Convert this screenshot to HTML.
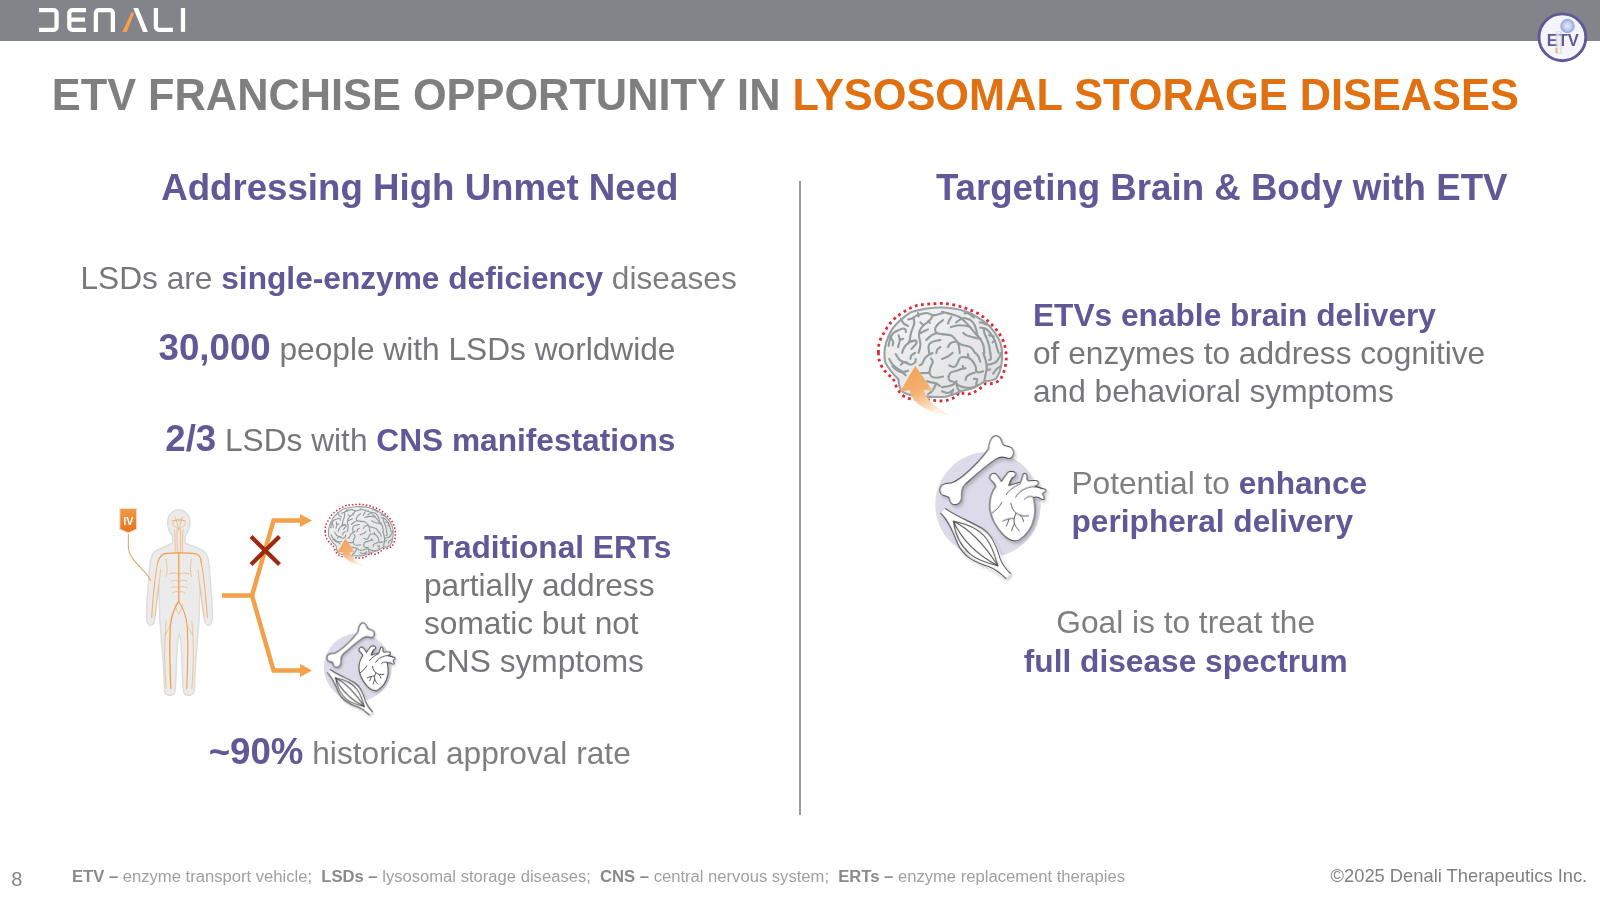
<!DOCTYPE html>
<html><head><meta charset="utf-8">
<style>
html,body{margin:0;padding:0;}
body{width:1600px;height:900px;position:relative;overflow:hidden;background:#fff;font-family:"Liberation Sans",sans-serif;}
.t{position:absolute;white-space:pre;color:#7f7f7f;}
.b{font-weight:bold;color:#615897;}
.s19{font-size:31.67px;line-height:38px;}
.g2{color:#76777b;}
.s22{font-size:36.67px;line-height:44px;}
svg{position:absolute;overflow:visible;}
</style></head>
<body><div style="position:absolute;left:0;top:0;width:1600px;height:900px;will-change:transform;">
<!-- top bar -->
<div style="position:absolute;left:0;top:0;width:1600px;height:41px;background:#838489;"></div>
<!-- DENALI logo -->
<svg style="left:30px;top:0;width:170px;height:41.97px" viewBox="0 0 1600 395">
 <g fill="none" stroke="#fff" stroke-width="40">
  <path d="M85,95 H222 A28,28 0 0 1 250,123 V252 A28,28 0 0 1 222,280 H85"/>
  <path d="M527,95 H398 A28,28 0 0 0 370,123 V252 A28,28 0 0 0 398,280 H527 M370,185 H518"/>
  <path d="M620,300 V123 A28,28 0 0 1 648,95 H752 A28,28 0 0 1 780,123 V300"/>
  <path d="M1185,75 V252 A28,28 0 0 0 1213,280 H1345"/>
  <path d="M1440,75 V300"/>
 </g>
 <polygon fill="#f5a04a" points="868,300 912,300 978,128 958,110"/>
 <polygon fill="#fff" points="972,75 1018,75 1110,300 1064,300"/>
</svg>
<!-- ETV badge -->
<svg style="left:1530px;top:5px;width:64px;height:64px" viewBox="1530 5 64 64"><circle cx="1562.4" cy="37.3" r="23.4" fill="#f5f4fa" stroke="#615897" stroke-width="2.9"/></svg>
<svg style="left:1537px;top:12px;width:50px;height:50px" viewBox="0 0 50 50">
 <defs><radialGradient id="bg1"><stop offset="0" stop-color="#f0e4f0"/><stop offset="0.5" stop-color="#c8d0ee"/><stop offset="1" stop-color="#86a8de"/></radialGradient></defs>
 <text x="25.8" y="33.7" text-anchor="middle" font-family="Liberation Sans" font-weight="bold" font-size="16.5" fill="#615897">ETV</text>
 <g opacity="0.55">
 <rect x="18.5" y="19" width="6.5" height="23" fill="#d6d6d6"/>
 <rect x="21" y="20" width="2" height="21" fill="#ececec"/>
 </g>
 <rect x="18.5" y="36" width="1.8" height="5" fill="#f0b070"/>
 <circle cx="30.5" cy="14" r="7.2" fill="url(#bg1)"/>
</svg>


<!-- title -->
<div class="t" style="left:51.8px;top:69px;font-size:43.33px;line-height:52px;font-weight:bold;color:#7f7f7f;transform:scaleY(1.045);transform-origin:0 41px;">ETV FRANCHISE OPPORTUNITY IN <span style="color:#e07010">LYSOSOMAL STORAGE DISEASES</span></div>

<!-- divider -->
<div style="position:absolute;left:799px;top:181px;width:2px;height:634px;background:#9b9b9b;"></div>

<!-- left column -->
<div class="t b s22" style="left:161.2px;top:166px;">Addressing High Unmet Need</div>
<div class="t s19" style="left:80.5px;top:259px;"><span class="g2">LSDs are </span><b class="b">single-enzyme deficiency</b> diseases</div>
<div class="t s19 g2" style="left:158.6px;top:329px;"><b class="b" style="font-size:36.67px">30,000</b> people with LSDs worldwide</div>
<div class="t s19 g2" style="left:165.25px;top:420px;"><b class="b" style="font-size:36.67px">2/3</b> LSDs with <b class="b">CNS manifestations</b></div>
<div class="t s19 g2" style="left:424px;top:528px;"><b class="b">Traditional ERTs</b>
partially address
somatic but not
CNS symptoms</div>
<div class="t s19" style="left:208.7px;top:733px;"><b class="b" style="font-size:36.67px">~90%</b> historical approval rate</div>

<!-- right column -->
<div class="t b s22" style="left:935.9px;top:166px;">Targeting Brain &amp; Body with ETV</div>
<div class="t s19 g2" style="left:1033px;top:296px;"><b class="b">ETVs enable brain delivery</b>
of enzymes to address cognitive
and behavioral symptoms</div>
<div class="t s19" style="left:1071.5px;top:464px;">Potential to <b class="b">enhance</b>
<b class="b">peripheral delivery</b></div>
<div class="t s19" style="left:985.7px;width:400px;text-align:center;top:603px;">Goal is to treat the</div>
<div class="t s19" style="left:985.7px;width:400px;text-align:center;top:642px;"><b class="b">full disease spectrum</b></div>


<!-- symbol defs -->
<svg width="0" height="0" style="position:absolute;left:0;top:0">
 <defs>
  <linearGradient id="brainFill" x1="0" y1="0" x2="1" y2="1">
   <stop offset="0" stop-color="#f4f4f4"/><stop offset="1" stop-color="#dedede"/>
  </linearGradient>
  <linearGradient id="arrowFill" x1="0" y1="0" x2="0.6" y2="1">
   <stop offset="0" stop-color="#f2a150"/><stop offset="0.55" stop-color="#f4b070"/><stop offset="1" stop-color="#fdf0e2"/>
  </linearGradient>
  <filter id="shadow" x="-20%" y="-20%" width="140%" height="140%">
   <feDropShadow dx="10" dy="14" stdDeviation="10" flood-color="#000" flood-opacity="0.2"/>
  </filter>
  <symbol id="brain" viewBox="0 0 1371 1200">
   <g transform="translate(128.6,85.7)">
   <path d="M30,454 C25,380 45,330 76,283 C100,240 130,190 172,156 C220,115 280,75 363,45 C430,35 505,32 583,28 C650,35 730,50 801,81 C870,100 930,140 978,192 C1030,235 1075,290 1104,363 C1120,410 1128,470 1124,520 C1118,580 1100,640 1074,681 C1050,705 1000,725 948,716 C910,750 870,790 801,807 C760,805 730,795 720,792 C700,830 660,855 583,866 C500,860 420,855 313,848 C270,840 240,825 225,805 C200,780 180,740 171,714 C165,695 160,680 150,668 C110,640 70,600 45,545 C32,510 28,480 30,454 Z" fill="none" stroke="#dc2b35" stroke-width="24" stroke-dasharray="24 30"/>
   <path d="M81,454 C81,380 101,330 146,252 C180,200 217,167 303,106 C360,85 404,76 505,66 C600,60 700,72 786,101 C850,125 900,160 958,202 C1010,250 1050,310 1074,363 C1085,400 1089,430 1089,454 C1092,530 1085,600 1043,666 C1020,690 993,696 937,696 C900,727 851,757 776,772 C700,790 650,830 583,832 C500,830 420,830 353,822 C300,815 250,800 227,777 C210,750 200,720 202,681 C167,646 116,595 86,530 C81,500 81,470 81,454 Z" fill="url(#brainFill)" stroke="#9aa2a5" stroke-width="18"/>
   <g fill="none" stroke="#939c9f" stroke-width="18" stroke-linecap="round" stroke-linejoin="round">
    <path d="M116,394 C118,383 123,349 130,330 C137,311 146,293 160,280 C174,267 203,258 217,252 C231,246 238,244 245,245 C252,246 259,250 262,255 C265,260 264,272 265,275"/>
    <path d="M131,313 C133,318 141,332 145,340 C149,348 155,355 156,363 C157,371 152,385 151,389"/>
    <path d="M222,161 C224,164 227,173 232,180 C237,187 242,198 250,205 C258,212 278,219 283,222"/>
    <path d="M283,167 C290,165 310,162 323,156 C336,150 344,138 363,131 C382,124 415,111 439,111 C463,111 481,131 505,131 C529,131 570,114 583,111"/>
    <path d="M368,111 L373,141"/>
    <path d="M328,151 C329,156 334,170 335,180 C336,190 338,195 333,212 C328,229 314,261 308,283 C302,305 302,328 298,343 C294,358 286,368 283,373"/>
    <path d="M298,353 C306,352 339,345 348,348 C357,351 359,361 353,373 C347,385 320,411 313,419"/>
    <path d="M389,192 C394,195 405,216 419,212 C433,208 461,180 474,167 C487,154 492,137 495,131"/>
    <path d="M469,197 L460,180"/>
    <path d="M419,212 C413,220 390,245 383,262 C376,279 377,293 378,313 C379,333 390,360 389,383 C388,406 376,442 373,454"/>
    <path d="M389,283 L454,252"/>
    <path d="M583,172 C575,179 546,199 535,212 C524,225 516,240 515,252 C514,264 519,276 530,283 C541,290 574,291 583,293"/>
    <path d="M439,343 C446,336 469,313 484,303 C499,293 522,286 530,283"/>
    <path d="M464,454 C463,444 456,409 459,394 C462,379 467,372 484,363 C501,354 547,346 560,343"/>
    <path d="M525,454 C527,449 529,432 535,424 C541,416 556,407 560,404"/>
    <path d="M202,303 C204,310 213,326 212,343 C211,360 200,394 197,404"/>
    <path d="M212,343 L242,333"/>
    <path d="M232,454 C235,446 242,419 252,404 C262,389 278,372 293,363 C308,354 335,350 343,348"/>
    <path d="M574,101 C587,104 625,114 650,121 C675,128 701,130 726,146 C751,162 779,194 801,217 C823,240 841,264 857,283 C873,302 885,311 897,328 C909,345 920,362 927,383 C934,404 935,442 937,454"/>
    <path d="M574,293 C587,295 632,296 650,303 C668,310 674,320 685,333 C696,346 709,363 716,383 C723,403 724,442 726,454"/>
    <path d="M650,232 C661,230 693,219 716,217 C739,215 769,220 786,222 C803,224 811,230 816,232"/>
    <path d="M695,192 C703,187 728,167 741,161 C754,155 760,155 771,156 C782,157 800,165 806,167"/>
    <path d="M766,116 C769,115 776,108 786,111 C796,114 816,124 826,131 C836,138 844,148 847,151"/>
    <path d="M811,167 C817,173 838,188 847,202 C856,216 862,235 867,252 C872,269 872,290 877,303 C882,316 894,328 897,333"/>
    <path d="M756,283 C761,286 769,296 786,303 C803,310 837,318 857,323 C877,328 899,331 907,333"/>
    <path d="M897,192 C902,193 917,194 927,197 C937,200 953,210 958,212"/>
    <path d="M902,237 C908,238 926,238 937,242 C948,246 956,250 968,262 C980,274 998,298 1008,313 C1018,328 1025,346 1028,353"/>
    <path d="M932,242 C933,249 933,269 937,283 C941,297 951,310 958,328 C965,346 973,373 978,394 C983,415 986,444 988,454"/>
    <path d="M978,303 L1018,313"/>
    <path d="M1008,363 C1011,361 1022,346 1028,353 C1034,360 1038,387 1043,404 C1048,421 1056,446 1059,454"/>
    <path d="M625,404 C629,398 640,376 650,368 C660,360 679,360 685,358"/>
    <path d="M695,353 C703,358 726,376 741,383 C756,390 772,390 786,394 C800,398 814,399 826,409 C838,419 852,446 857,454"/>
    <path d="M625,202 C628,196 635,176 640,167 C645,158 652,150 655,146"/>
    <path d="M121,504 C126,512 138,540 151,555 C164,570 187,585 202,595 C217,605 228,614 242,616 C256,618 276,608 283,606"/>
    <path d="M151,570 C158,576 177,597 192,606 C207,615 230,619 242,626 C254,633 259,643 262,646"/>
    <path d="M177,464 C183,472 198,503 212,515 C226,527 247,528 262,535 C277,542 290,555 303,555 C316,555 336,543 343,535 C350,527 347,510 348,505"/>
    <path d="M222,555 C225,552 234,538 242,535 C250,532 267,535 272,535"/>
    <path d="M303,505 C305,500 306,482 313,474 C320,466 338,457 343,454"/>
    <path d="M383,560 C386,558 397,554 404,545 C411,536 416,517 424,505 C432,493 442,482 454,474 C466,466 487,457 494,454"/>
    <path d="M479,500 C482,505 496,517 495,530 C494,543 479,565 474,580 C469,595 472,613 464,621 C456,629 441,625 429,626 C417,627 400,626 394,626"/>
    <path d="M464,621 C467,627 474,648 484,656 C494,664 508,666 525,666 C542,666 573,658 583,656"/>
    <path d="M444,696 C451,698 470,703 484,706 C498,709 513,711 525,716 C537,721 550,734 555,737"/>
    <path d="M525,716 C522,723 512,745 505,757 C498,769 492,779 484,787 C476,795 459,804 454,807"/>
    <path d="M574,505 C582,502 610,492 625,484 C640,476 658,459 665,454"/>
    <path d="M635,560 C642,562 664,576 675,575 C686,574 692,568 700,555 C708,542 718,511 726,500 C734,489 738,491 751,490 C764,489 787,489 801,495 C815,501 827,512 837,525 C847,538 857,556 862,570 C867,584 863,598 867,606 C871,614 877,620 887,621 C897,622 920,613 927,611"/>
    <path d="M630,656 C633,650 638,629 650,621 C662,613 684,611 700,606 C716,601 733,594 746,590 C759,586 771,586 776,585"/>
    <path d="M751,565 L761,585"/>
    <path d="M630,656 C632,662 631,683 640,691 C649,699 671,698 685,706 C699,714 709,729 726,737 C743,745 766,750 786,752 C806,754 832,751 847,747 C862,743 872,730 877,727"/>
    <path d="M776,686 C778,681 779,664 786,656 C793,648 804,642 816,636 C828,630 850,624 857,621"/>
    <path d="M847,676 C852,677 874,674 877,681 C880,688 867,709 867,717 C867,725 875,725 877,727"/>
    <path d="M927,454 C930,464 943,494 948,515 C953,536 958,560 958,580 C958,600 952,618 948,636 C944,654 939,678 937,686"/>
    <path d="M988,454 C989,462 995,495 993,505 C991,515 980,513 978,515"/>
    <path d="M958,555 C964,554 980,554 993,550 C1006,546 1025,541 1038,530 C1051,519 1062,497 1069,484 C1076,471 1077,459 1079,454"/>
    <path d="M958,600 L988,595"/>
    <path d="M1013,631 C1017,625 1028,605 1038,595 C1048,585 1068,574 1074,570"/>
    <path d="M574,747 C584,745 616,742 635,737 C654,732 674,723 685,716 C696,709 698,699 700,696"/>
    <path d="M700,727 C702,733 706,754 710,762 C714,770 723,774 726,777"/>
    <path d="M574,782 C582,784 610,798 625,797 C640,796 658,780 665,777"/>
    <path d="M655,807 L670,767"/>
    <path d="M862,454 C866,459 880,471 887,484 C894,497 900,522 902,530"/>
    <path d="M796,464 L801,495"/>
   </g>
   <path d="M345,563 L497,782 L419,770 C430,830 480,900 637,987 C500,975 400,930 340,860 C315,830 300,800 298,772 L214,787 Z" fill="url(#arrowFill)"/>
   </g>
  </symbol>
  <symbol id="organs" viewBox="0 0 764 900">
   <circle cx="371" cy="435" r="288" fill="#dddbe9"/>
   <g filter="url(#shadow)" fill="#fff" stroke="#505050" stroke-width="1.05" stroke-linejoin="round" stroke-linecap="round">
    <path vector-effect="non-scaling-stroke" transform="translate(81.9,27.3) scale(0.4852)" d="M600,215 C605,160 620,95 665,68 C705,52 745,85 755,140 C760,175 790,178 830,185 C880,200 900,250 875,295 C860,325 820,325 790,310 C760,300 720,305 680,330 C560,410 440,520 340,610 C300,650 295,700 300,760 C300,810 260,845 215,840 C180,835 165,800 160,765 C150,740 120,745 90,735 C55,720 45,670 65,635 C85,600 140,600 185,595 C230,580 270,550 310,520 C420,430 520,330 600,215 Z"/>
    <g transform="translate(81.9,409.3) scale(0.5154)">
     <path vector-effect="non-scaling-stroke" stroke="none" d="M110,90 C300,220 500,300 620,420 C690,520 690,620 800,780 L750,830 C560,700 380,620 250,480 C180,300 140,200 60,140 Z"/>
     <path vector-effect="non-scaling-stroke" fill="none" d="M110,90 C220,170 380,230 500,300 C600,360 650,480 690,620 C720,700 760,740 800,780"/>
     <path vector-effect="non-scaling-stroke" fill="none" d="M60,140 C140,210 190,330 240,460 C300,600 420,660 560,700 C640,730 700,780 750,830"/>
     <path vector-effect="non-scaling-stroke" fill="none" d="M195,225 C330,250 470,310 545,410 C610,500 640,600 665,695"/>
     <path vector-effect="non-scaling-stroke" fill="none" d="M195,225 C215,370 275,490 375,575 C455,640 560,670 665,695"/>
     <path vector-effect="non-scaling-stroke" fill="none" d="M195,225 C270,390 420,570 665,695"/>
     <path vector-effect="non-scaling-stroke" fill="none" d="M195,225 C370,310 520,470 665,695"/>
    </g>
    <g transform="translate(354.7,218.3) scale(0.4852)">
     <path vector-effect="non-scaling-stroke" d="M120,240 C110,200 70,180 55,155 C45,120 75,88 105,92 C135,98 160,150 185,185 C205,150 225,120 245,100 C250,75 300,62 332,80 C358,95 345,130 310,142 C290,165 280,200 275,230 C320,215 370,200 400,190 C420,160 420,120 430,100 C445,85 470,92 472,125 C470,160 465,175 490,180 C530,175 575,165 598,185 C610,210 590,232 560,238 C600,245 640,262 660,270 C685,265 695,295 672,305 C650,320 640,325 660,350 C680,380 660,400 632,382 C600,360 575,355 545,365 C565,450 572,520 552,600 C530,700 470,790 380,845 C320,870 260,840 200,780 C130,700 70,610 55,500 C45,400 70,310 120,240 Z"/>
    </g>
   </g>
   <g transform="translate(354.7,218.3) scale(0.4852)" fill="none" stroke="#505050" stroke-width="0.95" stroke-linecap="round">
    <path vector-effect="non-scaling-stroke" d="M265,230 C280,200 290,170 310,142"/>
    <path vector-effect="non-scaling-stroke" d="M240,330 C270,280 320,250 400,205"/>
    <path vector-effect="non-scaling-stroke" d="M345,360 C380,300 440,260 520,245 C560,240 600,245 640,265"/>
    <path vector-effect="non-scaling-stroke" d="M445,385 C470,355 500,345 545,360"/>
    <path vector-effect="non-scaling-stroke" d="M290,430 C300,480 320,520 350,540 C390,570 430,580 490,570"/>
    <path vector-effect="non-scaling-stroke" d="M350,540 C330,580 320,620 330,660 C345,700 370,720 385,740"/>
    <path vector-effect="non-scaling-stroke" d="M330,660 C315,690 305,715 300,740"/>
    <path vector-effect="non-scaling-stroke" d="M320,600 C280,600 240,610 200,630"/>
    <path vector-effect="non-scaling-stroke" d="M268,610 C262,640 250,665 240,685"/>
    <path vector-effect="non-scaling-stroke" d="M400,570 C420,590 430,610 435,635"/>
    <path vector-effect="non-scaling-stroke" d="M78,540 C120,510 165,470 190,420"/>
   </g>
  </symbol>
 </defs>
</svg>
<!-- brains -->
<svg style="left:860px;top:290px;width:160px;height:140px" viewBox="0 0 160 140"><use href="#brain" width="160" height="140"/></svg>
<svg style="left:314.9px;top:497.3px;width:88px;height:77px" viewBox="0 0 160 140"><use href="#brain" width="160" height="140"/></svg>
<!-- organs -->
<svg style="left:920px;top:425px;width:140px;height:164.9px" viewBox="0 0 764 900"><use href="#organs" width="764" height="900"/></svg>
<svg style="left:313.7px;top:615.9px;width:90.2px;height:106.2px" viewBox="0 0 764 900"><use href="#organs" width="764" height="900"/></svg>

<!-- human body + IV -->
<svg style="left:105px;top:495px;width:120px;height:210px" viewBox="0 0 514 900">
 <defs>
  <linearGradient id="ivg" x1="0" y1="0" x2="0" y2="1"><stop offset="0" stop-color="#f29a45"/><stop offset="1" stop-color="#e4711b"/></linearGradient>
 </defs>
 <path d="M316,64 C345,64 364,88 364,118 C364,142 356,160 344,172 L342,205 C370,220 410,228 428,245 C445,265 447,300 450,350 C455,420 462,480 460,525 C460,545 452,560 440,558 C428,555 424,540 424,520 C420,470 415,420 408,385 C406,430 404,480 404,520 C400,580 392,660 386,760 C384,800 386,830 380,848 C372,862 345,862 338,848 C332,820 332,780 330,720 C328,660 324,620 318,590 C312,620 308,660 306,720 C304,780 304,820 298,848 C290,862 266,862 258,848 C252,830 254,800 252,760 C246,660 238,580 234,520 C234,480 232,430 230,385 C223,420 218,470 214,520 C214,540 210,555 198,558 C186,560 178,545 178,525 C176,480 183,420 188,350 C191,300 193,265 210,245 C228,228 268,220 290,205 L288,172 C276,160 268,142 268,118 C268,88 287,64 316,64 Z" fill="#ebebeb" stroke="#dddddd" stroke-width="6"/>
 <g fill="none" stroke="#f29c48" stroke-linecap="round" stroke-linejoin="round">
  <path stroke-width="5.5" d="M316,248 L316,455 C300,480 285,510 280,560 C275,650 278,740 282,830"/>
  <path stroke-width="4.5" d="M316,455 C332,480 347,510 352,560 C357,650 354,740 350,830"/>
  <path stroke-width="5" d="M226,288 C232,265 245,252 265,250 C290,248 316,248 316,248 C340,248 365,248 390,252 C405,258 412,270 412,288"/>
  <path stroke-width="3.5" d="M226,288 C214,350 206,430 200,525"/>
  <path stroke-width="3.5" d="M412,288 C424,350 432,430 438,525"/>
  <path stroke-width="2.2" d="M238,320 C230,400 222,460 216,520"/>
  <path stroke-width="2.2" d="M398,320 C406,400 414,460 422,520"/>
  <path stroke-width="2.2" d="M262,540 C255,620 252,700 262,830"/>
  <path stroke-width="2.2" d="M372,540 C380,620 382,700 372,830"/>
  <path stroke-width="2.4" d="M300,248 C302,215 300,190 298,150 M332,248 C330,215 332,190 334,150 M310,246 L308,150 M322,246 L324,150"/>
  <path stroke-width="2.2" d="M290,120 C295,100 335,98 345,118 C345,135 320,140 316,150 C312,140 288,135 290,120 M300,95 C305,110 310,125 316,150 M332,95 C327,110 322,125 316,150 M285,110 L345,110"/>
  <path stroke-width="2.2" d="M275,338 C295,332 305,334 316,340 C328,334 340,332 360,338 M285,370 C298,362 308,366 316,372 C326,366 336,362 350,370 M282,398 C298,390 308,392 316,400 C324,392 336,390 352,398 M290,420 C300,412 310,412 316,418 M342,420 C332,412 322,412 316,418"/>
  <path stroke-width="2.2" d="M262,275 C266,300 268,325 262,350 M370,275 C366,300 364,325 370,350"/>
  <path stroke-width="2.2" d="M280,560 C268,580 262,590 258,600 M352,560 C364,580 370,590 374,600 M300,470 C305,490 310,500 316,510 M332,470 C327,490 322,500 316,510"/>
 </g>
</svg>
<svg style="left:105px;top:495px;width:120px;height:210px" viewBox="0 0 514 900">
 <path d="M100,166 L100,225 C102,260 132,290 160,320 C178,338 190,352 196,368" fill="none" stroke="#eda264" stroke-width="4.5"/>
 <path d="M63,57 H136 V147 L100,163 L63,147 Z" fill="url(#ivg)" stroke="#e6e6e6" stroke-width="5"/>
 <text x="100" y="130" text-anchor="middle" font-family="Liberation Sans" font-weight="bold" font-size="46" fill="#fff">IV</text>
</svg>

<!-- branching arrows -->
<svg style="left:0;top:0;width:1600px;height:900px" viewBox="0 0 1600 900">
 <g fill="none" stroke="#f4a04a" stroke-width="4.5" stroke-linejoin="miter">
  <path d="M222,595.5 H252 L273.6,520.4 H302"/>
  <path d="M252,595.5 L273.6,670.5 H302"/>
 </g>
 <polygon fill="#f4a04a" points="300,514 312,520.4 300,527"/>
 <polygon fill="#f4a04a" points="300,664 312,670.5 300,677"/>
 <g stroke="#9b2a0e" stroke-width="4.2">
  <path d="M251,536.5 L279.5,564.5 M279.5,536.5 L251,564.5"/>
 </g>
</svg>

<!-- footer -->
<div class="t" style="left:11.2px;top:867px;font-size:20px;line-height:24px;color:#858585;">8</div>
<div class="t" style="left:72px;top:867px;font-size:16.62px;line-height:20px;color:#a0a0a0;"><b style="color:#8a8a8a">ETV – </b>enzyme transport vehicle;  <b style="color:#8a8a8a">LSDs – </b>lysosomal storage diseases;  <b style="color:#8a8a8a">CNS – </b>central nervous system;  <b style="color:#8a8a8a">ERTs – </b>enzyme replacement therapies</div>
<div class="t" style="left:1330.5px;top:865px;font-size:18.33px;line-height:22px;color:#808080;">©2025 Denali Therapeutics Inc.</div>

</div></body></html>
